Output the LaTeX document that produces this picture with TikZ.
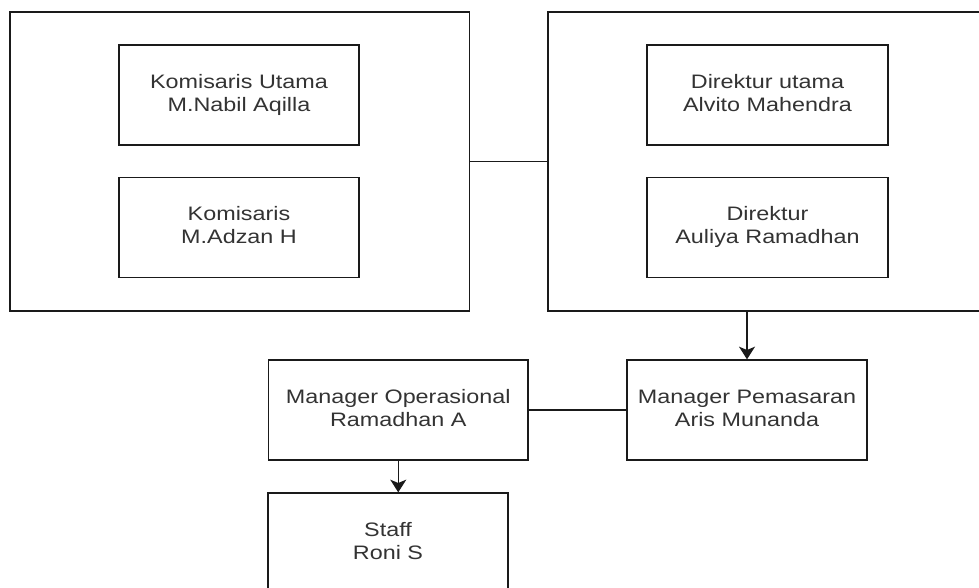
\documentclass[tikz,border=0pt]{standalone}
\usepackage{graphicx}
\usepackage{fontspec}
\setmainfont{Liberation Sans}
\usetikzlibrary{arrows.meta}
\definecolor{txtc}{HTML}{333333}
\definecolor{linec}{HTML}{1A1A1A}
\newcommand{\twolines}[2]{\scalebox{1.2}[1]{\fontsize{14.6pt}{17.5pt}\selectfont\begin{tabular}{@{}c@{}}#1\\#2\end{tabular}}}
\tikzset{
  bigbox/.style={draw=linec, line width=1pt, fill=white, inner sep=0pt, minimum height=224.25pt},
  smallbox/.style={draw=linec, line width=1pt, fill=white, inner sep=0pt, minimum width=180pt, minimum height=75pt, text=txtc},
  conn/.style={draw=linec, line width=1pt},
  arr/.style={conn, -{Stealth[length=9.5pt, width=12pt, inset=2.5pt]}}
}
\begin{document}
\begin{tikzpicture}[x=0.75pt, y=-0.75pt]
\useasboundingbox (0,0) rectangle (979,587);
\clip (0,0) rectangle (979,587);
\fill[white] (0,0) rectangle (979,587);
% big containers
\node[bigbox, minimum width=344.6pt] (lbig) at (239.75,161.5) {};
\node[bigbox, minimum width=339pt] (rbig) at (774,161.5) {};
% inner boxes
\node[smallbox] (ku) at (239,95) {\twolines{Komisaris Utama}{M.Nabil Aqilla}};
\node[smallbox] (k) at (239,227.5) {\twolines{Komisaris}{M.Adzan H}};
\node[smallbox, minimum width=180.75pt] (du) at (767.5,95) {\twolines{Direktur utama}{Alvito Mahendra}};
\node[smallbox, minimum width=180.75pt] (d) at (767.5,227.5) {\twolines{Direktur}{Auliya Ramadhan}};
% managers
\node[smallbox, minimum width=194.6pt] (mop) at (398.25,410) {\twolines{Manager Operasional}{Ramadhan A}};
\node[smallbox] (mpem) at (747,410) {\twolines{Manager Pemasaran}{Aris Munanda}};
\node[smallbox] (staff) at (388,543) {\twolines{Staff}{Roni S}};
% connectors
\draw[conn] (lbig.east) -- (rbig.west);
\draw[arr] (mpem.north |- rbig.south) -- (mpem.north);
\draw[conn] (mop.east) -- (mpem.west);
\draw[arr] (mop.south) -- (mop.south |- staff.north);
\end{tikzpicture}
\end{document}
